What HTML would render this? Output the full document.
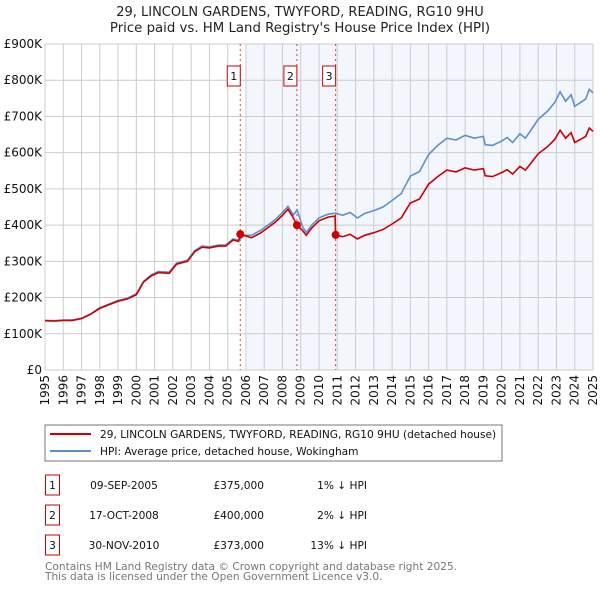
<!DOCTYPE html>
<html><head><meta charset="utf-8"><style>
body{margin:0;background:#fff;font-family:"DejaVu Sans","Liberation Sans",sans-serif;}
svg text{font-family:"DejaVu Sans","Liberation Sans",sans-serif;}
</style></head><body>
<svg id="c" width="600" height="590" viewBox="0 0 600 590" xmlns="http://www.w3.org/2000/svg">
<text x="300" y="16" text-anchor="middle" font-size="13" fill="#222">29, LINCOLN GARDENS, TWYFORD, READING, RG10 9HU</text>
<text x="300" y="32" text-anchor="middle" font-size="13.3" fill="#222">Price paid vs. HM Land Registry's House Price Index (HPI)</text>
<g id="plot"></g>
<rect x="45" y="425" width="457" height="36" fill="#fff" stroke="#777"/>
<line x1="50" y1="434" x2="91" y2="434" stroke="#cc0000" stroke-width="2"/>
<text x="100" y="438" font-size="10.6" fill="#111">29, LINCOLN GARDENS, TWYFORD, READING, RG10 9HU (detached house)</text>
<line x1="50" y1="451" x2="91" y2="451" stroke="#5b8fd0" stroke-width="2"/>
<text x="100" y="455" font-size="10.6" fill="#111">HPI: Average price, detached house, Wokingham</text>
<g id="table" font-size="10.6" fill="#111"></g>
<text x="45" y="570" font-size="10.6" fill="#777">Contains HM Land Registry data © Crown copyright and database right 2025.</text>
<text x="45" y="580" font-size="10.6" fill="#777">This data is licensed under the Open Government Licence v3.0.</text>
</svg>
<script>
const hpiYears=[1995.0,1995.5,1996.0,1996.5,1997.0,1997.5,1998.0,1998.5,1999.0,1999.5,2000.0,2000.4,2000.8,2001.2,2001.8,2002.2,2002.8,2003.2,2003.6,2004.0,2004.5,2004.9,2005.3,2005.6,2005.9,2006.3,2006.8,2007.2,2007.6,2008.0,2008.3,2008.6,2008.8,2009.1,2009.3,2009.6,2010.0,2010.5,2010.9,2011.3,2011.7,2012.1,2012.5,2013.0,2013.5,2014.0,2014.5,2015.0,2015.5,2016.0,2016.5,2017.0,2017.5,2018.0,2018.5,2019.0,2019.1,2019.5,2020.0,2020.3,2020.6,2021.0,2021.3,2021.6,2022.0,2022.5,2022.9,2023.2,2023.5,2023.8,2024.0,2024.3,2024.6,2024.8,2025.0];
const hpiValues=[137,136,138,138,143,155,172,182,192,198,210,245,262,272,270,295,303,330,342,340,345,345,362,358,372,372,385,400,415,435,452,428,442,395,380,400,420,430,433,427,435,420,432,440,450,468,487,535,548,595,620,640,635,648,640,645,622,620,632,642,628,652,640,662,692,714,738,768,742,760,728,738,748,775,765];
const paidYears=[1995.0,1995.5,1996.0,1996.5,1997.0,1997.5,1998.0,1998.5,1999.0,1999.5,2000.0,2000.4,2000.8,2001.2,2001.8,2002.2,2002.8,2003.2,2003.6,2004.0,2004.5,2004.9,2005.3,2005.6,2005.69,2006.3,2006.8,2007.2,2007.6,2008.0,2008.3,2008.6,2008.79,2009.1,2009.3,2009.6,2010.0,2010.5,2010.88,2010.91,2011.3,2011.7,2012.1,2012.5,2013.0,2013.5,2014.0,2014.5,2015.0,2015.5,2016.0,2016.5,2017.0,2017.5,2018.0,2018.5,2019.0,2019.1,2019.5,2020.0,2020.3,2020.6,2021.0,2021.3,2021.6,2022.0,2022.5,2022.9,2023.2,2023.5,2023.8,2024.0,2024.3,2024.6,2024.8,2025.0];
const paidValues=[136,135,137,137,142,154,170,180,190,196,208,243,259,269,267,292,300,327,339,337,342,342,359,355,375,365,378,393,408,427,444,420,400,385,372,392,412,422,425,373,368,375,362,372,379,388,403,420,461,472,513,534,552,547,558,552,556,536,534,545,553,541,562,552,571,597,616,636,662,640,655,628,636,645,668,659];
const sales=[{n:"1",t:2005.69,v:375,date:"09-SEP-2005",price:"£375,000",pct:"1% ↓ HPI"},{n:"2",t:2008.79,v:400,date:"17-OCT-2008",price:"£400,000",pct:"2% ↓ HPI"},{n:"3",t:2010.91,v:373,date:"30-NOV-2010",price:"£373,000",pct:"13% ↓ HPI"}];
const yTicks=[0,100,200,300,400,500,600,700,800,900];
const yTickLabels=["£0","£100K","£200K","£300K","£400K","£500K","£600K","£700K","£800K","£900K"];
const xTicks=[1995,1996,1997,1998,1999,2000,2001,2002,2003,2004,2005,2006,2007,2008,2009,2010,2011,2012,2013,2014,2015,2016,2017,2018,2019,2020,2021,2022,2023,2024,2025];

const L=45,R=593,T=44,B=370;
const X=t=>L+(t-1995)/30*(R-L);
const Y=v=>B-v/900*(B-T);
const NS="http://www.w3.org/2000/svg";
const plot=document.getElementById('plot');
function mk(tag,a,parent){const e=document.createElementNS(NS,tag);for(const k in a)e.setAttribute(k,a[k]);(parent||plot).appendChild(e);return e;}
let e;
e=mk('rect',{x:X(2006),y:T,width:R-X(2006),height:B-T,fill:"#eef2fb",opacity:0.7});


yTicks.forEach((v,i)=>{
 e=mk('line',{x1:L,x2:R,y1:Y(v),y2:Y(v),stroke:"#cccccc","stroke-width":1});
 
 
 e=mk('text',{x:L-3,y:Y(v)+4,"text-anchor":"end","font-size":"12",fill:"#111"});e.textContent=yTickLabels[i];
 
 
});
xTicks.forEach(t=>{
 e=mk('line',{x1:X(t),x2:X(t),y1:T,y2:B,stroke:"#cccccc","stroke-width":1});
 
 
 e=mk('text',{x:0,y:0,"text-anchor":"end","font-size":"12",fill:"#111",transform:`translate(${X(t)+4},${B+5}) rotate(-90)`});e.textContent=t;
 
 
});
sales.forEach(s=>{
 e=mk('line',{x1:X(s.t),x2:X(s.t),y1:T,y2:B,stroke:"#e04040","stroke-width":1,"stroke-dasharray":"2,3"});
 
 
 e=mk('rect',{x:X(s.t)-13,y:66,width:13,height:20,fill:"#fff",stroke:"#cc0000"});
 
 
 e=mk('text',{x:X(s.t)-6.5,y:80,"text-anchor":"middle","font-size":"11",fill:"#111"});e.textContent=s.n;
 
 
});
const path=(xs,vs)=>xs.map((t,i)=>(i?'L':'M')+X(t).toFixed(1)+','+Y(vs[i]).toFixed(1)).join('');
e=mk('path',{d:path(hpiYears,hpiValues),fill:"none",stroke:"#5b8fd0","stroke-width":1.6});


e=mk('path',{d:path(paidYears,paidValues),fill:"none",stroke:"#cc0000","stroke-width":1.6});


sales.forEach(s=>{
 e=mk('circle',{cx:X(s.t),cy:Y(s.v),r:4,fill:"#cc0000"});
 
 
});
const tbl=document.getElementById('table');
sales.forEach((s,i)=>{
 const y=485+i*30;
 e=mk('rect',{x:45.5,y:y-10,width:14,height:20,fill:"#fff",stroke:"#cc0000"},tbl);
 
 
 e=mk('text',{x:52.5,y:y+4,"text-anchor":"middle"},tbl);e.textContent=s.n;
 
 
 e=mk('text',{x:124,y:y+4,"text-anchor":"middle"},tbl);e.textContent=s.date;
 
 
 e=mk('text',{x:264,y:y+4,"text-anchor":"end"},tbl);e.textContent=s.price;
 
 
 e=mk('text',{x:367,y:y+4,"text-anchor":"end"},tbl);e.textContent=s.pct;
 
 
});
</script>
</body></html>
